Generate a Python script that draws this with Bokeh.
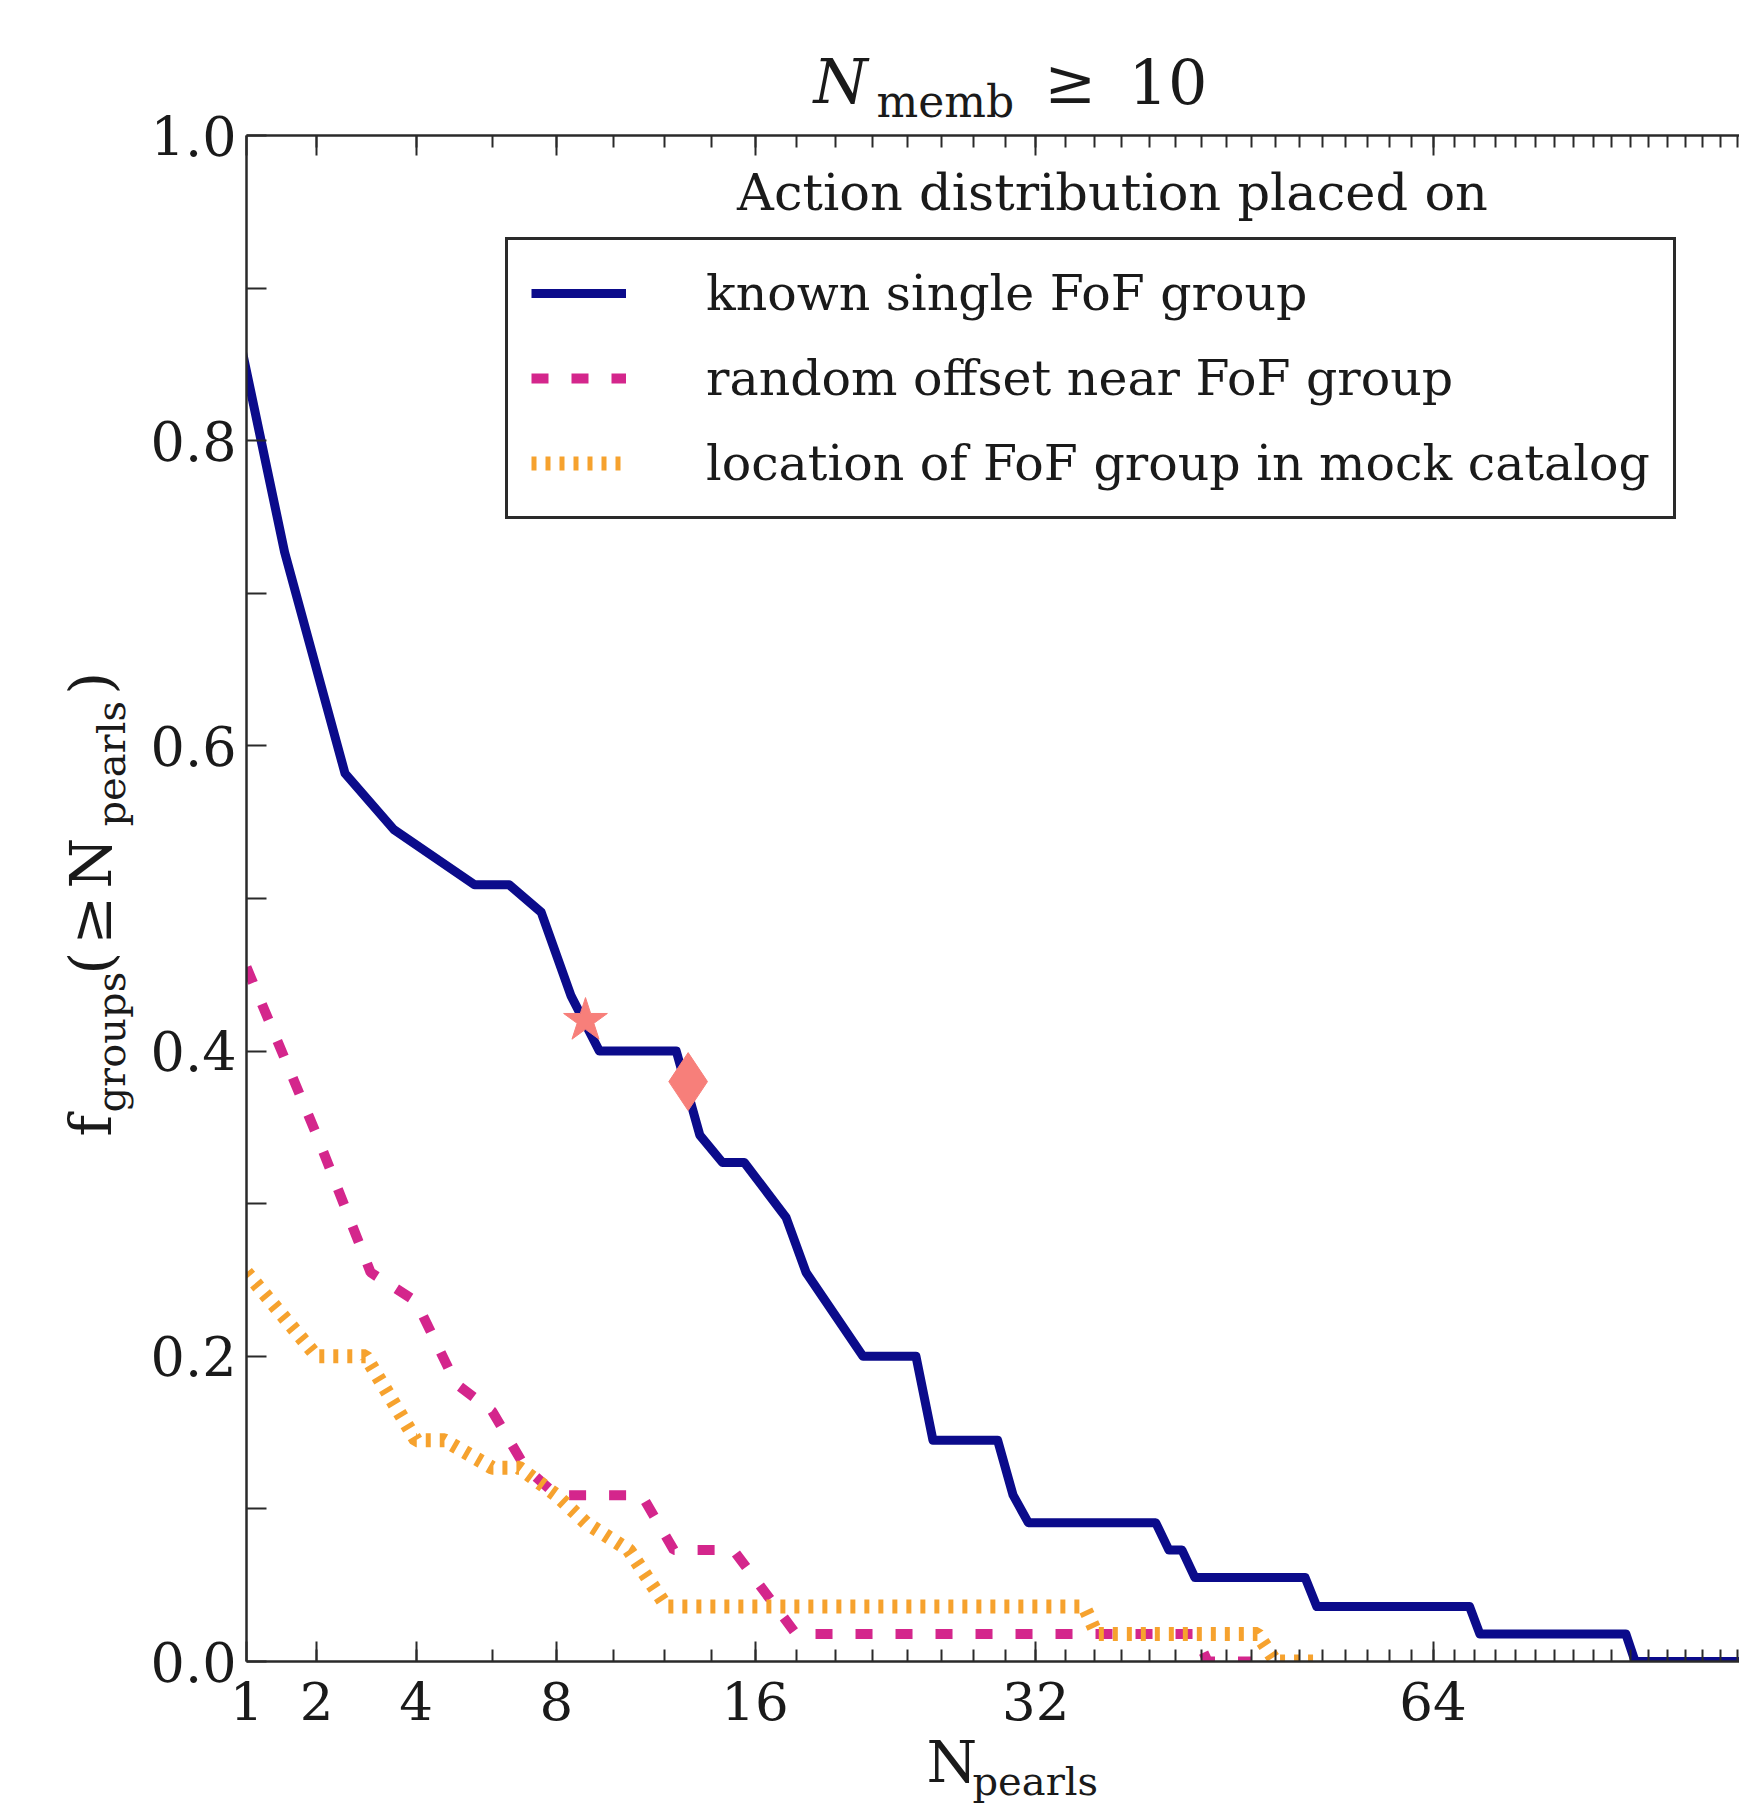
import numpy as np
from bokeh.plotting import figure
from bokeh.models import (FixedTicker, CustomJSTickFormatter, PrintfTickFormatter,
                          LinearAxis, Range1d, Label, Legend, LegendItem,
                          ColumnDataSource, BoxAnnotation)
from bokeh.embed import file_html
from bokeh.resources import INLINE

# ---------------- data ----------------
blue_n = [0.5, 1.5, 2.5, 3.5, 5.5, 6.5, 7.5, 8.5, 9.5, 12.5, 13.5, 14.5, 15.5, 17.5,
          18.5, 21.5, 24.5, 25.5, 29.5, 30.5, 31.5, 40.5, 41.5, 42.5, 43.5, 52.5,
          53.5, 67.5, 68.5, 83.5, 84.5, 100]
blue_f = [1.0, 0.727, 0.582, 0.545, 0.509, 0.509, 0.491, 0.436, 0.400, 0.400, 0.345,
          0.327, 0.327, 0.291, 0.255, 0.200, 0.200, 0.145, 0.145, 0.109, 0.091, 0.091,
          0.073, 0.073, 0.055, 0.055, 0.036, 0.036, 0.018, 0.018, 0.0, 0.0]

pink_n = [1, 2, 3, 4, 5, 6, 7, 8, 11.1, 12.4, 15, 18, 43.5, 44.5, 48]
pink_f = [0.455, 0.345, 0.255, 0.236, 0.182, 0.164, 0.127, 0.109, 0.109, 0.073, 0.073,
          0.018, 0.018, 0.0, 0.0]

orange_n = [1, 2, 2.9, 4, 4.7, 6, 6.8, 8, 9, 10.6, 12.1, 35.3, 36.2, 48.5, 50, 54]
orange_f = [0.255, 0.2, 0.2, 0.145, 0.145, 0.127, 0.127, 0.109, 0.091, 0.073, 0.036,
            0.036, 0.018, 0.018, 0.0, 0.0]

star_n, star_f = [9.0], [0.42]
diamond_n, diamond_f = [13.0], [0.38]

x_major_labels = [1, 2, 4, 8, 16, 32, 64]
x_minor_values = list(range(2, 101, 2))
y_major = [0.0, 0.2, 0.4, 0.6, 0.8, 1.0]
y_minor = [0.1, 0.3, 0.5, 0.7, 0.9]

series_labels = ["known single FoF group", "random offset near FoF group",
                 "location of FoF group in mock catalog"]

# ---------------- styling ----------------
BLUE = "#0b0b8b"
PINK = "#d4268c"
ORANGE = "#f6a22e"
SALMON = "#f77f7a"
AX = "#2a2a2a"
TXT = "#1a1a1a"
FONT = "DejaVu Serif"

W, H = 1739, 1808
AXL, AXB, AXT = 246, 1661, 135      # pixel places of the axes spines
PXU = 169.5                          # pixels per unit of sqrt(N)


def dx(px):
    return 1 + (px - AXL) / PXU


def dy(py):
    return (AXB - py) / (AXB - AXT)


X0, X1 = 1.0, dx(W)                  # visible axis extent (N = 1 .. right edge)

p = figure(width=W, height=H, output_backend="svg", toolbar_location=None, title=None,
           x_range=Range1d(dx(0), dx(W)), y_range=Range1d(dy(H), dy(0)),
           min_border_left=0, min_border_right=0, min_border_top=0,
           min_border_bottom=0)
p.grid.visible = False
p.outline_line_color = None
p.background_fill_color = "white"
p.border_fill_color = "white"

xt = FixedTicker(ticks=list(np.sqrt(x_major_labels)), minor_ticks=list(np.sqrt(x_minor_values)))
fmt = CustomJSTickFormatter(code="return String(Math.round(tick*tick));")

xa = p.xaxis[0]
xa.ticker = xt
xa.formatter = fmt
xa.fixed_location = 0.0
xa.bounds = (X0, X1)

top = LinearAxis(ticker=xt, formatter=fmt, fixed_location=1.0, bounds=(X0, X1))
top.major_label_text_alpha = 0
top.major_label_text_font_size = "1px"
top.major_label_standoff = 0
p.add_layout(top, "above")

for ax in (xa, top):
    ax.major_tick_in = 20
    ax.major_tick_out = 0
    ax.minor_tick_in = 12
    ax.minor_tick_out = 0

ya = p.yaxis[0]
ya.ticker = FixedTicker(ticks=y_major, minor_ticks=y_minor)
ya.formatter = PrintfTickFormatter(format="%.1f")
ya.fixed_location = X0
ya.bounds = (0.0, 1.0)
ya.major_tick_in = 20
ya.major_tick_out = 0
ya.minor_tick_in = 20
ya.minor_tick_out = 0
ya.major_label_standoff = 10
xa.major_label_standoff = 20

for ax in (xa, top, ya):
    ax.axis_line_width = 2.5
    ax.axis_line_color = AX
    ax.major_tick_line_width = 2
    ax.minor_tick_line_width = 2
    ax.major_tick_line_color = AX
    ax.minor_tick_line_color = AX
    ax.major_label_text_font = FONT
    ax.major_label_text_color = TXT
xa.major_label_text_font_size = "53px"
ya.major_label_text_font_size = "54px"

# ---------------- series ----------------
r_blue = p.line("x", "y", source=ColumnDataSource(dict(x=np.sqrt(blue_n), y=blue_f)),
                line_color=BLUE, line_width=9, line_join="round")
r_pink = p.line("x", "y", source=ColumnDataSource(dict(x=np.sqrt(pink_n), y=pink_f)),
                line_color=PINK, line_width=10, line_dash="17 23", line_cap="butt")
r_orange = p.line("x", "y", source=ColumnDataSource(dict(x=np.sqrt(orange_n), y=orange_f)),
                  line_color=ORANGE, line_width=14, line_dash="5 9", line_cap="butt")
p.scatter(np.sqrt(star_n), star_f, marker="star", size=46, color=SALMON)
p.scatter(np.sqrt(diamond_n), diamond_f, marker="diamond", size=58, color=SALMON)

# keep the curves inside the axes box (below y=0 and left of N=1 is masked)
p.add_layout(BoxAnnotation(top=0.0, fill_color="white", fill_alpha=1.0,
                           line_alpha=0, level="glyph"))
p.add_layout(BoxAnnotation(right=X0, fill_color="white", fill_alpha=1.0,
                           line_alpha=0, level="glyph"))

# ---------------- legend ----------------
legend = Legend(items=[LegendItem(label=series_labels[0], renderers=[r_blue]),
                       LegendItem(label=series_labels[1], renderers=[r_pink]),
                       LegendItem(label=series_labels[2], renderers=[r_orange])],
                location=(505, H - 519))
legend.margin = 0
legend.padding = 23
legend.spacing = 25
legend.glyph_width = 95
legend.glyph_height = 60
legend.label_height = 60
legend.label_width = 942
legend.label_standoff = 80
legend.label_text_font = FONT
legend.label_text_font_size = "49px"
legend.label_text_color = TXT
legend.border_line_color = AX
legend.border_line_alpha = 1.0
legend.border_line_width = 3
legend.background_fill_color = "white"
legend.background_fill_alpha = 1.0
p.add_layout(legend)

# ---------------- texts ----------------
SHIFT = 0.42   # rendered baseline sits this many em below the anchor


def lab(px, py, text, size, rotated=False, **kw):
    if rotated:
        x, y, ang = px - SHIFT * size, py, np.pi / 2
    else:
        x, y, ang = px, py - SHIFT * size, 0.0
    p.add_layout(Label(x=dx(x), y=dy(y), text=text, text_font=FONT,
                       text_font_size=f"{size}px", text_color=TXT, angle=ang,
                       text_baseline="alphabetic", **kw))


lab(1112, 213, "Action distribution placed on", 51, text_align="center")

# title  N_memb >= 10
lab(813, 107, "N", 62, text_font_style="italic")
lab(876, 119, "memb", 44)
lab(1044, 107, "\u2265", 62)
lab(1128, 107, "10", 62)

# x label  N_pearls
lab(926, 1786, "N", 58)
lab(972, 1797, "pearls", 40)

# y label  f_groups (>= N_pearls)
lab(115, 1136, "f", 58, rotated=True)
lab(127, 1112, "groups", 40, rotated=True)
lab(115, 974, "(", 58, rotated=True)
lab(115, 944, "\u2265", 58, rotated=True)
lab(115, 888, "N", 58, rotated=True)
lab(127, 826, "pearls", 40, rotated=True)
lab(115, 694, ")", 58, rotated=True)

open("out.html", "w").write(file_html(p, INLINE))
